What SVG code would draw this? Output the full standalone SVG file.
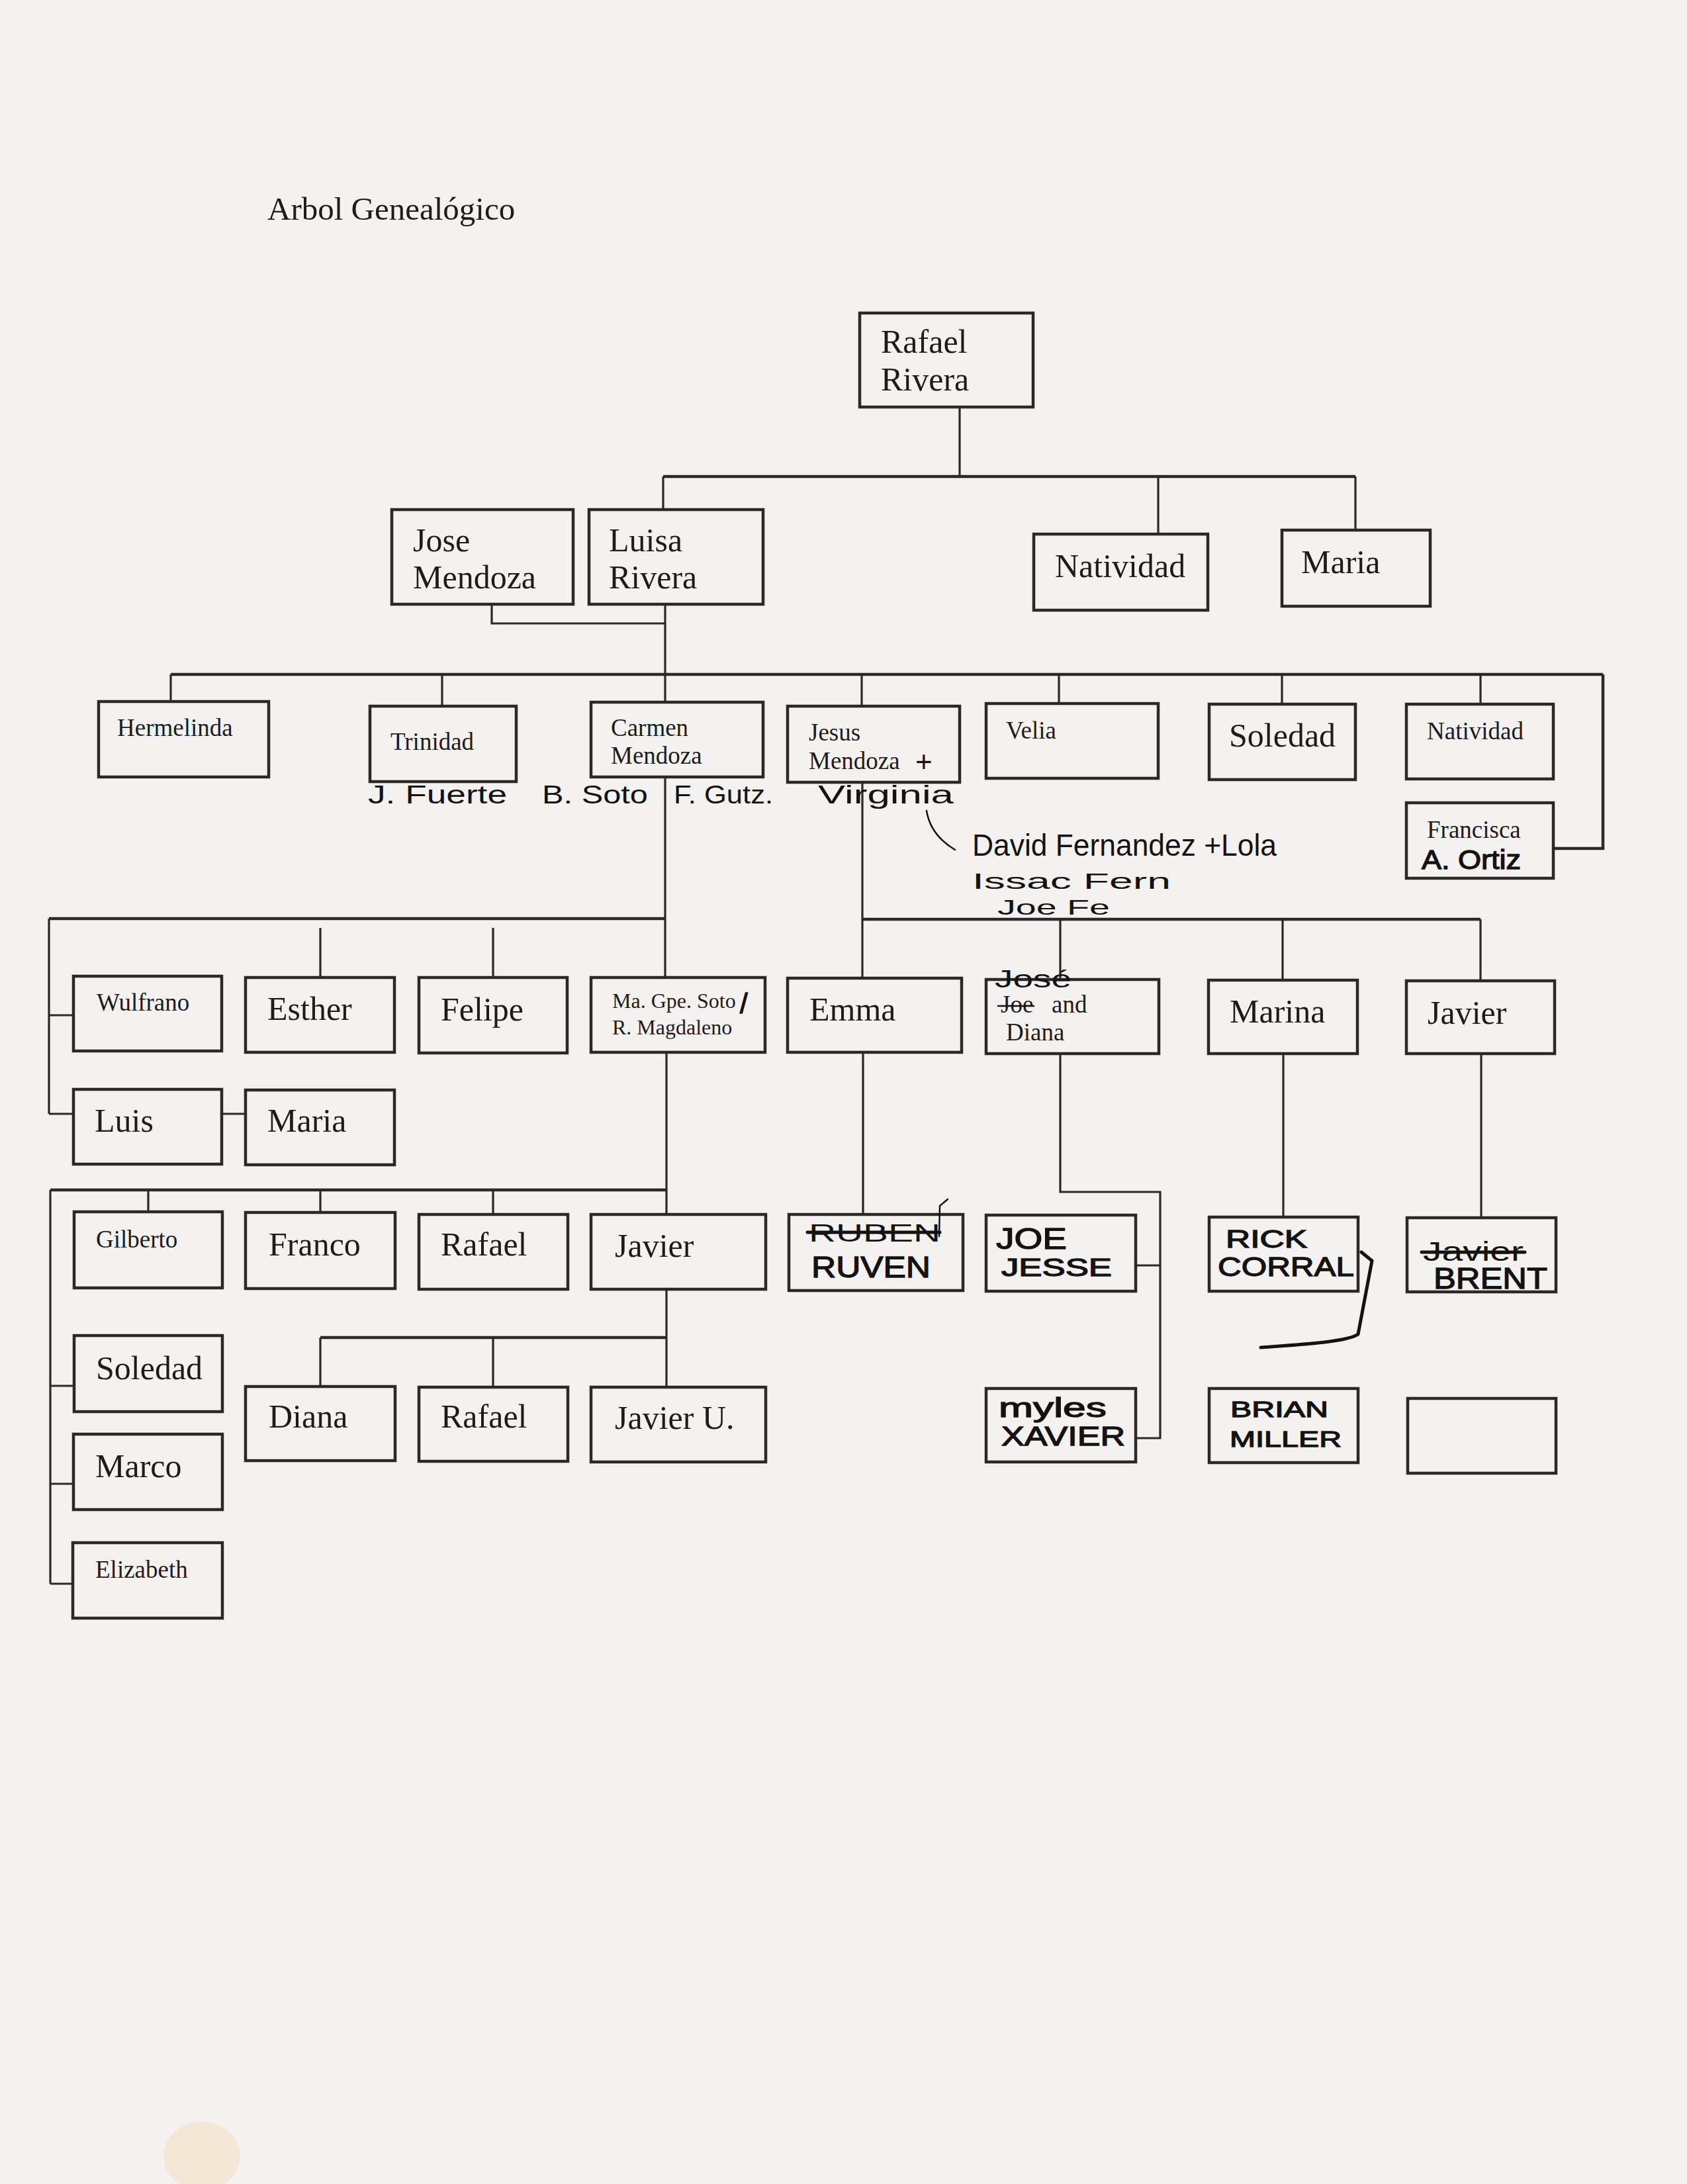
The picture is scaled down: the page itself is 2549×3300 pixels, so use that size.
<svg xmlns="http://www.w3.org/2000/svg" width="2549" height="3300" viewBox="0 0 2549 3300">
<style>
.box{fill:none;stroke:#2b2827;stroke-width:4.5}
.con{fill:none;stroke:#2b2827;stroke-width:3.2}
.bar{fill:none;stroke:#2b2827;stroke-width:4.5}
.t{font-family:"Liberation Serif","Times New Roman",serif;fill:#1e1c1b}
.L{font-size:50px}
.S{font-size:37px}
.XS{font-size:32px}
.hw{font-family:"Liberation Sans",Arial,sans-serif;fill:#151312}
.hwk{font-family:"Liberation Sans",Arial,sans-serif;fill:#151312;stroke:#151312;stroke-width:1.3}
.ink{fill:none;stroke:#151312;stroke-width:5;stroke-linecap:round;stroke-linejoin:round}
.thin{fill:none;stroke:#151312;stroke-width:2.5;stroke-linecap:round}
</style>
<rect x="0" y="0" width="2549" height="3300" fill="#f4f2f0"/>
<ellipse cx="305" cy="3258" rx="58" ry="52" fill="#f4dfc4" opacity="0.6"/>

<text id="title" class="t" x="404" y="332" font-size="49">Arbol Genealógico</text>

<g id="connectors">
  <path class="con" d="M1450 615 V720"/>
  <path class="bar" d="M1002 720 H2048"/>
  <path class="con" d="M1002 720 V770 M1750 720 V807 M2048 720 V801"/>
  <path class="con" d="M743 913 V942 H1005"/>
  <path class="con" d="M1005 913 V1061"/>
  <path class="bar" d="M258 1019 H2422"/>
  <path class="con" d="M258 1019 V1060 M668 1019 V1067 M1302 1019 V1067 M1600 1019 V1063 M1937 1019 V1064 M2237 1019 V1064"/>
  <path class="bar" d="M2422 1019 V1282 H2347"/>
  <path class="con" d="M1005 1174 V1478"/>
  <path class="bar" d="M74 1388 H1005"/>
  <path class="con" d="M74 1388 V1683 M74 1534 H111 M74 1683 H111 M335 1683 H371 M484 1402 V1477 M745 1402 V1477"/>
  <path class="con" d="M1007 1590 V1835"/>
  <path class="bar" d="M76 1798 H1007"/>
  <path class="con" d="M224 1798 V1831 M484 1798 V1832 M745 1798 V1835 M76 1798 V2393 M76 2094 H112 M76 2242 H111 M76 2393 H110"/>
  <path class="con" d="M1007 1948 V2096"/>
  <path class="bar" d="M484 2021 H1007"/>
  <path class="con" d="M484 2021 V2095 M745 2021 V2096"/>
  <path class="con" d="M1303 1182 V1478"/>
  <path class="bar" d="M1303 1389 H2237"/>
  <path class="con" d="M1602 1389 V1480 M1938 1389 V1481 M2237 1389 V1482"/>
  <path class="con" d="M1304 1590 V1835"/>
  <path class="con" d="M1602 1592 V1801 H1753 V2173 H1716 M1753 1912 H1716"/>
  <path class="con" d="M1939 1591 V1839 M2238 1592 V1840"/>
</g>

<g id="n-rafael-rivera"><rect class="box" x="1299" y="473" width="262" height="142"/><text class="t L" x="1331" y="533">Rafael</text><text class="t L" x="1331" y="590">Rivera</text></g>
<g id="n-jose-mendoza"><rect class="box" x="592" y="770" width="274" height="143"/><text class="t L" x="624" y="833">Jose</text><text class="t L" x="624" y="889">Mendoza</text></g>
<g id="n-luisa-rivera"><rect class="box" x="890" y="770" width="263" height="143"/><text class="t L" x="920" y="833">Luisa</text><text class="t L" x="920" y="889">Rivera</text></g>
<g id="n-natividad-1"><rect class="box" x="1562" y="807" width="263" height="115"/><text class="t L" x="1594" y="872">Natividad</text></g>
<g id="n-maria-1"><rect class="box" x="1937" y="801" width="224" height="115"/><text class="t L" x="1966" y="866">Maria</text></g>

<g id="n-hermelinda"><rect class="box" x="149" y="1060" width="257" height="114"/><text class="t S" x="177" y="1112">Hermelinda</text></g>
<g id="n-trinidad"><rect class="box" x="559" y="1067" width="221" height="114"/><text class="t S" x="590" y="1133">Trinidad</text></g>
<g id="n-carmen-mendoza"><rect class="box" x="893" y="1061" width="260" height="113"/><text class="t S" x="923" y="1112">Carmen</text><text class="t S" x="923" y="1154">Mendoza</text></g>
<g id="n-jesus-mendoza"><rect class="box" x="1190" y="1067" width="260" height="115"/><text class="t S" x="1222" y="1119">Jesus</text><text class="t S" x="1222" y="1162">Mendoza</text><text class="hw" x="1383" y="1166" font-size="44">+</text></g>
<g id="n-velia"><rect class="box" x="1490" y="1063" width="260" height="113"/><text class="t S" x="1520" y="1116">Velia</text></g>
<g id="n-soledad-1"><rect class="box" x="1827" y="1064" width="221" height="114"/><text class="t L" x="1857" y="1128">Soledad</text></g>
<g id="n-natividad-2"><rect class="box" x="2125" y="1064" width="222" height="113"/><text class="t S" x="2156" y="1117">Natividad</text></g>
<g id="n-francisca"><rect class="box" x="2125" y="1213" width="222" height="114"/><text class="t S" x="2156" y="1266">Francisca</text><text class="hwk" x="2148" y="1313" font-size="40" textLength="150" lengthAdjust="spacingAndGlyphs">A. Ortiz</text></g>

<g id="notes-spouses">
  <text class="hw" x="556" y="1214" font-size="38" textLength="210" lengthAdjust="spacingAndGlyphs">J. Fuerte</text>
  <text class="hw" x="819" y="1214" font-size="38" textLength="160" lengthAdjust="spacingAndGlyphs">B. Soto</text>
  <text class="hw" x="1018" y="1214" font-size="38" textLength="150" lengthAdjust="spacingAndGlyphs">F. Gutz.</text>
  <text class="hw" x="1236" y="1214" font-size="38" textLength="205" lengthAdjust="spacingAndGlyphs">Virginia</text>
  <path class="thin" d="M1400 1225 Q1406 1262 1443 1284"/>
  <text class="hw" x="1469" y="1293" font-size="46" textLength="460" lengthAdjust="spacingAndGlyphs">David Fernandez +Lola</text>
  <text class="hw" x="1469" y="1343" font-size="34" textLength="300" lengthAdjust="spacingAndGlyphs">Issac Fern</text>
  <text class="hw" x="1507" y="1382" font-size="32" textLength="170" lengthAdjust="spacingAndGlyphs">Joe Fe</text>
</g>

<g id="n-wulfrano"><rect class="box" x="111" y="1475" width="224" height="113"/><text class="t S" x="146" y="1527">Wulfrano</text></g>
<g id="n-esther"><rect class="box" x="371" y="1477" width="225" height="113"/><text class="t L" x="404" y="1541">Esther</text></g>
<g id="n-felipe"><rect class="box" x="633" y="1477" width="224" height="114"/><text class="t L" x="666" y="1542">Felipe</text></g>
<g id="n-ma-gpe-soto"><rect class="box" x="893" y="1477" width="263" height="113"/><text class="t XS" x="925" y="1523">Ma. Gpe. Soto</text><text class="hwk" x="1118" y="1531" font-size="42">/</text><text class="t XS" x="925" y="1563">R. Magdaleno</text></g>
<g id="n-emma"><rect class="box" x="1190" y="1478" width="263" height="112"/><text class="t L" x="1223" y="1542">Emma</text></g>
<g id="n-jose-diana"><rect class="box" x="1490" y="1480" width="261" height="112"/><text class="hw" x="1503" y="1492" font-size="36" textLength="116" lengthAdjust="spacingAndGlyphs">José</text><text class="t S" x="1512" y="1530">Joe</text><path class="thin" d="M1508 1520 H1562"/><text class="t S" x="1589" y="1530">and</text><text class="t S" x="1520" y="1572">Diana</text></g>
<g id="n-marina"><rect class="box" x="1826" y="1481" width="225" height="111"/><text class="t L" x="1858" y="1545">Marina</text></g>
<g id="n-javier-1"><rect class="box" x="2125" y="1482" width="224" height="110"/><text class="t L" x="2157" y="1547">Javier</text></g>

<g id="n-luis"><rect class="box" x="111" y="1646" width="224" height="113"/><text class="t L" x="143" y="1710">Luis</text></g>
<g id="n-maria-2"><rect class="box" x="371" y="1647" width="225" height="113"/><text class="t L" x="404" y="1710">Maria</text></g>

<g id="n-gilberto"><rect class="box" x="112" y="1831" width="224" height="115"/><text class="t S" x="145" y="1885">Gilberto</text></g>
<g id="n-franco"><rect class="box" x="371" y="1832" width="226" height="115"/><text class="t L" x="406" y="1897">Franco</text></g>
<g id="n-rafael-1"><rect class="box" x="633" y="1835" width="225" height="113"/><text class="t L" x="666" y="1897">Rafael</text></g>
<g id="n-javier-2"><rect class="box" x="893" y="1835" width="264" height="113"/><text class="t L" x="929" y="1899">Javier</text></g>

<g id="n-ruven"><rect class="box" x="1192" y="1835" width="263" height="115"/><text class="hw" x="1222" y="1876" font-size="36" textLength="199" lengthAdjust="spacingAndGlyphs">RUBEN</text><path class="ink" d="M1220 1862 H1420"/><path class="thin" d="M1419 1868 L1420 1822 L1432 1812"/><text class="hwk" x="1226" y="1930" font-size="44" textLength="180" lengthAdjust="spacingAndGlyphs">RUVEN</text></g>
<g id="n-joe-jesse"><rect class="box" x="1490" y="1836" width="226" height="115"/><text class="hwk" x="1505" y="1887" font-size="44" textLength="107" lengthAdjust="spacingAndGlyphs">JOE</text><text class="hwk" x="1513" y="1928" font-size="36" textLength="167" lengthAdjust="spacingAndGlyphs">JESSE</text></g>
<g id="n-rick-corral"><rect class="box" x="1827" y="1839" width="225" height="112"/><text class="hwk" x="1852" y="1885" font-size="36" textLength="123" lengthAdjust="spacingAndGlyphs">RICK</text><text class="hwk" x="1840" y="1928" font-size="40" textLength="206" lengthAdjust="spacingAndGlyphs">CORRAL</text></g>
<g id="n-brent"><rect class="box" x="2126" y="1840" width="225" height="112"/><text class="hw" x="2150" y="1905" font-size="40" textLength="152" lengthAdjust="spacingAndGlyphs">Javier</text><path class="ink" d="M2148 1892 H2304"/><text class="hwk" x="2166" y="1947" font-size="44" textLength="172" lengthAdjust="spacingAndGlyphs">BRENT</text></g>
<path id="hand-arrow" class="ink" d="M1905 2036 C1960 2032 2035 2028 2052 2016 L2073 1905 L2057 1892"/>

<g id="n-soledad-2"><rect class="box" x="112" y="2018" width="224" height="115"/><text class="t L" x="145" y="2084">Soledad</text></g>
<g id="n-diana"><rect class="box" x="371" y="2095" width="226" height="112"/><text class="t L" x="406" y="2157">Diana</text></g>
<g id="n-rafael-2"><rect class="box" x="633" y="2096" width="225" height="112"/><text class="t L" x="666" y="2157">Rafael</text></g>
<g id="n-javier-u"><rect class="box" x="893" y="2096" width="264" height="113"/><text class="t L" x="929" y="2159">Javier U.</text></g>
<g id="n-myles-xavier"><rect class="box" x="1490" y="2098" width="226" height="111"/><text class="hwk" x="1509" y="2141" font-size="40" textLength="163" lengthAdjust="spacingAndGlyphs">myles</text><text class="hwk" x="1513" y="2184" font-size="40" textLength="187" lengthAdjust="spacingAndGlyphs">XAVIER</text></g>
<g id="n-brian-miller"><rect class="box" x="1827" y="2098" width="225" height="112"/><text class="hwk" x="1859" y="2141" font-size="34" textLength="148" lengthAdjust="spacingAndGlyphs">BRIAN</text><text class="hwk" x="1858" y="2186" font-size="34" textLength="169" lengthAdjust="spacingAndGlyphs">MILLER</text></g>
<g id="n-empty"><rect class="box" x="2127" y="2113" width="224" height="113"/></g>

<g id="n-marco"><rect class="box" x="111" y="2167" width="225" height="114"/><text class="t L" x="144" y="2232">Marco</text></g>
<g id="n-elizabeth"><rect class="box" x="110" y="2331" width="226" height="114"/><text class="t S" x="144" y="2384">Elizabeth</text></g>
</svg>
